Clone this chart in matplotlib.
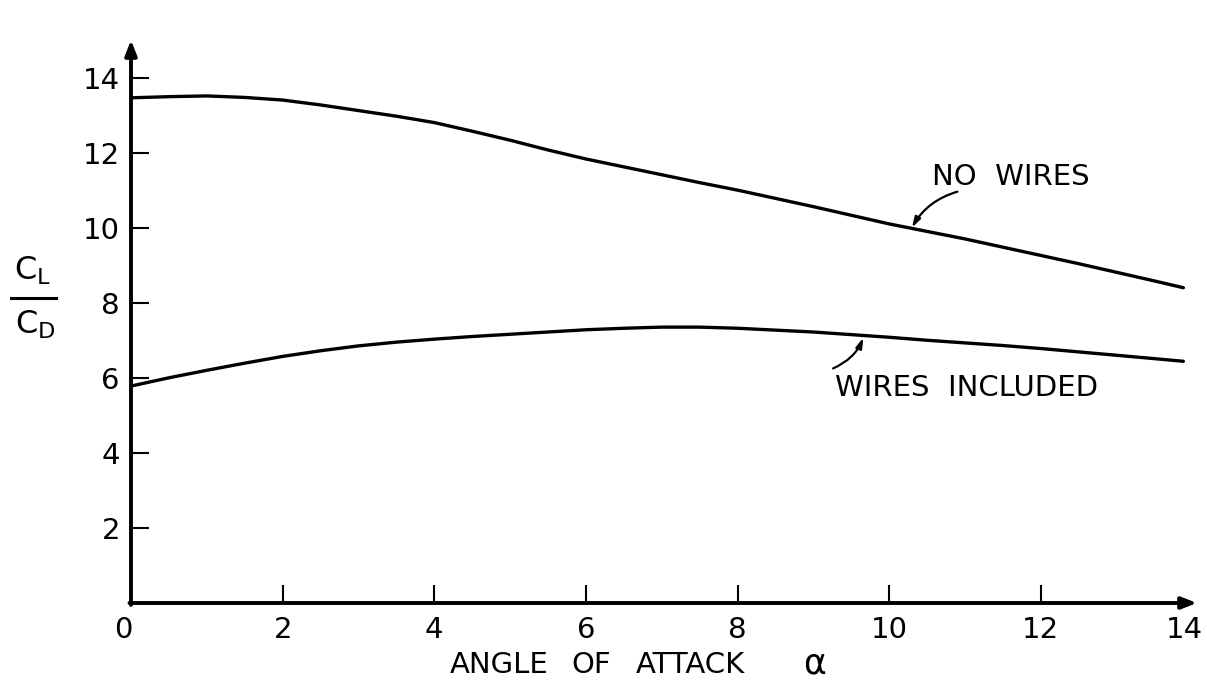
import numpy as np
import matplotlib.pyplot as plt
import matplotlib.transforms as mtransforms
from matplotlib.lines import Line2D

plt.rcParams['font.family'] = ['DejaVu Sans']
plt.rcParams['mathtext.fontset'] = 'custom'
plt.rcParams['mathtext.sf'] = 'DejaVu Sans'
plt.rcParams['mathtext.rm'] = 'DejaVu Sans'

# Lift/drag ratio vs angle of attack
alpha = [0, 0.5, 1, 1.5, 2, 2.5, 3, 3.5, 4, 4.5, 5, 5.5, 6, 6.5, 7, 7.5, 8,
         8.5, 9, 9.5, 10, 10.5, 11, 11.5, 12, 12.5, 13, 13.5, 13.88]
ld_no_wires = [13.46, 13.49, 13.51, 13.47, 13.40, 13.27, 13.12, 12.97, 12.80,
               12.57, 12.33, 12.07, 11.83, 11.62, 11.41, 11.20, 11.00, 10.78,
               10.56, 10.33, 10.10, 9.90, 9.70, 9.48, 9.26, 9.04, 8.81, 8.58,
               8.40]
ld_wires = [5.78, 6.00, 6.20, 6.39, 6.57, 6.72, 6.85, 6.95, 7.03, 7.10, 7.16,
            7.22, 7.28, 7.32, 7.35, 7.35, 7.32, 7.27, 7.22, 7.15, 7.08, 7.00,
            6.93, 6.86, 6.78, 6.69, 6.60, 6.51, 6.44]

x_ticks = [0, 2, 4, 6, 8, 10, 12, 14]
y_ticks = [2, 4, 6, 8, 10, 12, 14]

W, H = 1207, 683
fig = plt.figure(figsize=(W / 100, H / 100), dpi=100)
ax = fig.add_axes([131 / W, 80 / H, 1066 / W, 563 / H])
ax.set_xlim(0, 14.06)
ax.set_ylim(0, 15.0)

for s in ax.spines.values():
    s.set_visible(False)

# axes drawn as arrows
arrow = dict(arrowstyle='-|>,head_length=0.9,head_width=0.35', color='black',
             lw=2.8, shrinkA=0, shrinkB=0)
ax.annotate('', xy=(14.06, 0), xytext=(-0.02, 0), arrowprops=arrow,
            annotation_clip=False)
ax.annotate('', xy=(0, 15.0), xytext=(0, -0.05), arrowprops=arrow,
            annotation_clip=False)

ax.set_xticks(x_ticks)
ax.set_xticklabels([str(v) for v in x_ticks])
ax.set_yticks(y_ticks)
ax.set_yticklabels([str(v) for v in y_ticks])
ax.tick_params(axis='both', direction='in', length=13, width=1.5,
               labelsize=21, color='black')
ax.tick_params(axis='x', pad=9)
ax.tick_params(axis='y', pad=8)

# no tick mark under the arrow head; pull the end labels in a little
ax.xaxis.get_major_ticks()[-1].tick1line.set_visible(False)
shift = mtransforms.ScaledTranslation(-8 / 100, 0, fig.dpi_scale_trans)
for lab in (ax.get_xticklabels()[0], ax.get_xticklabels()[-1]):
    lab.set_transform(lab.get_transform() + shift)

ax.plot(alpha, ld_no_wires, color='black', lw=2.4, solid_capstyle='round',
        solid_joinstyle='round')
ax.plot(alpha, ld_wires, color='black', lw=2.4, solid_capstyle='round',
        solid_joinstyle='round')

# curve labels with pointer arrows
pointer = dict(arrowstyle='-|>,head_length=0.6,head_width=0.18',
               color='black', lw=1.6, connectionstyle='arc3,rad=0.2',
               shrinkA=0, shrinkB=0)
ax.text(11.6, 11.36, 'NO  WIRES', fontsize=21, ha='center', va='center')
ax.annotate('', xy=(10.3, 10.0), xytext=(10.9, 10.96), arrowprops=pointer)
ax.text(11.02, 5.74, 'WIRES  INCLUDED', fontsize=21, ha='center',
        va='center')
ax.annotate('', xy=(9.66, 7.07), xytext=(9.26, 6.25), arrowprops=pointer)

# x axis title, word by word
base = 1 - 673 / H
for word, left in [('ANGLE', 450), ('OF', 571), ('ATTACK', 636)]:
    fig.text(left / W, base, word, fontsize=21, ha='left', va='baseline')
fig.text(815 / W, base, 'α', fontsize=25, ha='center', va='baseline')

# y axis title as a fraction
fig.text(33 / W, 1 - 271 / H, r'$\mathsf{C_L}$', fontsize=23,
         ha='center', va='center')
fig.text(35 / W, 1 - 325 / H, r'$\mathsf{C_D}$', fontsize=23,
         ha='center', va='center')
fig.add_artist(Line2D([11 / W, 56 / W], [1 - 298 / H, 1 - 298 / H],
                      color='black', lw=2.2))

fig.savefig('out.png', dpi=100)
